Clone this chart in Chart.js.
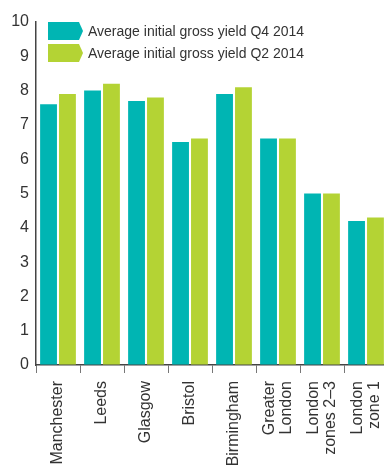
<!DOCTYPE html>
<html>
<head>
<meta charset="utf-8">
<script src="https://cdn.jsdelivr.net/npm/chart.js@4/dist/chart.umd.min.js"></script>
<style>
  html, body { margin: 0; padding: 0; background: #fff; overflow: hidden; }
  #wrap { width: 388px; height: 466px; position: relative; }
</style>
</head>
<body>
<div id="wrap"><canvas id="myChart"></canvas></div>
<script>
var categories = ['Manchester', 'Leeds', 'Glasgow', 'Bristol', 'Birmingham',
  ['Greater', 'London'], ['London', 'zones 2\u20133'], ['London', 'zone 1']];
var seriesNames = ['Average initial gross yield Q4 2014', 'Average initial gross yield Q2 2014'];
var yieldQ4 = [7.6, 8.0, 7.7, 6.5, 7.9, 6.6, 5.0, 4.2];
var yieldQ2 = [7.9, 8.2, 7.8, 6.6, 8.1, 6.6, 5.0, 4.3];
var yTicks = [0, 1, 2, 3, 4, 5, 6, 7, 8, 9, 10];

var teal = '#00b5b3';
var lime = '#b4d334';
var labelLineHeight = 17;

// legend with arrow-shaped swatches, drawn over the plot
var arrowLegend = {
    id: 'arrowLegend',
    afterDraw: function (chart) {
        var c = chart.ctx;
        c.save();
        chart.data.datasets.forEach(function (ds, i) {
            var x = 48, y = 22 + i * 22, w = 31, h = 18;
            c.fillStyle = ds.backgroundColor;
            c.beginPath();
            c.moveTo(x, y);
            c.lineTo(x + w, y);
            c.lineTo(x + w + 4, y + h / 2);
            c.lineTo(x + w, y + h);
            c.lineTo(x, y + h);
            c.closePath();
            c.fill();
            c.fillStyle = '#333';
            c.font = '14px "Liberation Sans", Arial, sans-serif';
            c.textBaseline = 'middle';
            c.fillText(ds.label, 88, y + h / 2 + 1);
        });
        c.restore();
    }
};

// center the two-line rotated labels on their category
var centerMultiline = {
    id: 'centerMultiline',
    beforeDraw: function (chart) {
        var scale = chart.scales.x;
        var items = scale.getLabelItems();
        if (items._centered) return;
        items.forEach(function (item) {
            if (Array.isArray(item.label) && item.label.length > 1) {
                item.options.translation[0] -= (item.label.length - 1) * labelLineHeight / 2;
            }
        });
        items._centered = true;
    }
};

var ctx = document.getElementById('myChart');
var myBarChart = new Chart(ctx, {
    type: 'bar',
    data: {
        labels: categories,
        datasets: [{
            label: seriesNames[0],
            data: yieldQ4,
            backgroundColor: teal
        }, {
            label: seriesNames[1],
            data: yieldQ2,
            backgroundColor: lime
        }]
    },
    options: {
        responsive: true,
        maintainAspectRatio: false,
        animation: false,
        layout: { padding: { top: 22, right: 0, left: 0, bottom: 0 } },
        categoryPercentage: 0.86,
        barPercentage: 0.89,
        plugins: {
            legend: { display: false },
            tooltip: { enabled: false }
        },
        scales: {
            x: {
                grid: { drawOnChartArea: false, drawTicks: true, tickLength: 8, color: '#777', offset: true },
                border: { display: true, color: '#444', width: 1.5 },
                ticks: {
                    minRotation: 90, maxRotation: 90, autoSkip: false, padding: 8,
                    color: '#333',
                    font: { family: '"Liberation Sans", Arial, sans-serif', size: 16, lineHeight: labelLineHeight + 'px' }
                },
                afterFit: function (scale) {
                    scale.height = 101;
                    scale.paddingLeft = 0;
                    scale.paddingRight = 0;
                }
            },
            y: {
                min: 0, max: 10,
                afterBuildTicks: function (scale) {
                    scale.ticks = yTicks.map(function (v) { return { value: v }; });
                },
                grid: { drawOnChartArea: false, drawTicks: false },
                border: { display: true, color: '#444', width: 1.5 },
                ticks: {
                    padding: 7, color: '#333',
                    font: { family: '"Liberation Sans", Arial, sans-serif', size: 16 }
                },
                afterFit: function (scale) {
                    scale.width = 36;
                    scale.paddingTop = 0;
                    scale.paddingBottom = 0;
                }
            }
        }
    },
    plugins: [arrowLegend, centerMultiline]
});
</script>
</body>
</html>
